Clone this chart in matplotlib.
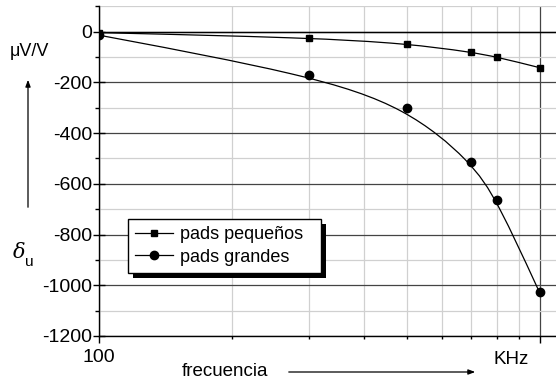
import numpy as np
import matplotlib
matplotlib.use("Agg")
import matplotlib.pyplot as plt
from matplotlib.path import Path
from matplotlib.patches import PathPatch, Rectangle, FancyArrowPatch
from matplotlib.lines import Line2D
from matplotlib.ticker import FixedLocator, NullFormatter
from matplotlib.transforms import IdentityTransform

plt.rcParams['font.family'] = ['Liberation Sans', 'DejaVu Sans']

# data
freq = [100, 300, 500, 700, 800, 1000]
pads_pequenos = [-4, -24, -47, -81, -100, -142]
pads_grandes = [-14, -170, -300, -514, -663, -1028]
labels = ["pads pequeños", "pads grandes"]
ytick_vals = [0, -200, -400, -600, -800, -1000, -1200]

W, H = 556, 381


def px(x, y):
    """ pixel position (from top-left) -> figure fraction """
    return x / W, 1 - y / H


def bspline_path(xs, ys):
    """ clamped cubic B-spline with the data as control points, built in (log x, y) """
    P = np.column_stack([np.log10(xs), ys])
    P = np.vstack([P[0], P[0], P, P[-1], P[-1]])
    verts, codes = [], []
    for i in range(1, len(P) - 2):
        b0 = (P[i - 1] + 4 * P[i] + P[i + 1]) / 6
        b1 = (2 * P[i] + P[i + 1]) / 3
        b2 = (P[i] + 2 * P[i + 1]) / 3
        b3 = (P[i] + 4 * P[i + 1] + P[i + 2]) / 6
        if not verts:
            verts.append(b0)
            codes.append(Path.MOVETO)
        verts += [b1, b2, b3]
        codes += [Path.CURVE4] * 3
    verts = np.array(verts)
    verts[:, 0] = 10 ** verts[:, 0]
    return Path(verts, codes)


fig = plt.figure(figsize=(W / 100, H / 100), dpi=100)
l, b = px(99, 336)
r, t = px(556, 6)
ax = fig.add_axes([l, b, r - l, t - b])

ax.set_xscale('log')
ax.set_xlim(100, 1090)
ax.set_ylim(-1200, 101)

for sp in ['top', 'right']:
    ax.spines[sp].set_visible(False)
for sp in ['left', 'bottom']:
    ax.spines[sp].set_linewidth(1.0)

ax.xaxis.set_major_locator(FixedLocator([100, 1000]))
ax.xaxis.set_minor_locator(FixedLocator([200, 300, 400, 500, 600, 700, 800, 900]))
ax.set_xticklabels(["100", ""])
ax.xaxis.set_minor_formatter(NullFormatter())
ax.yaxis.set_major_locator(FixedLocator(ytick_vals))
ax.yaxis.set_minor_locator(FixedLocator([-1100, -900, -700, -500, -300, -100, 100]))
ax.set_yticklabels([str(v) for v in ytick_vals])

ax.tick_params(axis='y', which='major', direction='inout', length=8, width=1, labelsize=14, pad=1)
ax.tick_params(axis='y', which='minor', direction='out', length=3, width=1)
ax.tick_params(axis='x', which='major', direction='out', length=5, width=1, labelsize=14, pad=4)
ax.tick_params(axis='x', which='minor', direction='out', length=2, width=1)

ax.grid(which='major', axis='y', color='#444444', lw=0.9)
ax.grid(which='minor', axis='y', color='#d0d0d0', lw=0.9)
ax.grid(which='minor', axis='x', color='#d0d0d0', lw=0.9)
ax.grid(which='major', axis='x', color='#444444', lw=0.9)
ax.axhline(0, color='black', lw=1.0)
ax.set_axisbelow(True)

for vals, mk, ms in [(pads_pequenos, 's', 5), (pads_grandes, 'o', 6)]:
    ax.add_patch(PathPatch(bspline_path(freq, vals), fill=False, edgecolor='black', lw=0.9, zorder=3))
    ax.plot(freq, vals, ls='none', marker=mk, ms=ms, color='black', zorder=4)

handles = [Line2D([], [], color='black', lw=0.9, marker='s', ms=5),
           Line2D([], [], color='black', lw=0.9, marker='o', ms=6)]
x0, y_top = px(128, 219)
_, y_bot = px(128, 272)
leg = fig.legend(handles, labels, loc='upper left',
                 bbox_to_anchor=(x0, y_bot, 193 / W, y_top - y_bot), mode='expand',
                 fontsize=13, frameon=True, fancybox=False, framealpha=1,
                 edgecolor='black', borderpad=0.4, labelspacing=0.3,
                 handlelength=2.1, handletextpad=0.4, borderaxespad=0)
leg.get_frame().set_linewidth(1.0)
leg.set_zorder(10)

# solid black drop shadow under the legend box
fig.canvas.draw()
bb = leg.get_window_extent()
fig.patches.append(Rectangle((bb.x0 + 5, bb.y0 - 5), bb.width, bb.height,
                             transform=IdentityTransform(), facecolor='black',
                             edgecolor='none', zorder=9))

# axis annotations
fig.text(*px(29, 51), "μV/V", fontsize=13, ha='center', va='center')
fig.text(*px(19, 252), "δ", fontsize=15, style='italic', ha='center', va='center',
         family=['DejaVu Serif'])
fig.text(*px(29, 262), "u", fontsize=11, ha='center', va='center')
fig.text(*px(225, 371), "frecuencia", fontsize=13.5, ha='center', va='center')
fig.text(*px(511, 360), "KHz", fontsize=13.5, ha='center', va='center')

fig.add_artist(FancyArrowPatch(
    px(28, 210), px(28, 77), transform=fig.transFigure,
    arrowstyle='-|>,head_length=4,head_width=1.5', lw=0.9, color='black'))
fig.add_artist(FancyArrowPatch(
    px(286, 372), px(478, 372), transform=fig.transFigure,
    arrowstyle='-|>,head_length=4,head_width=1.5', lw=0.9, color='black'))

fig.savefig("out.png", dpi=100)
